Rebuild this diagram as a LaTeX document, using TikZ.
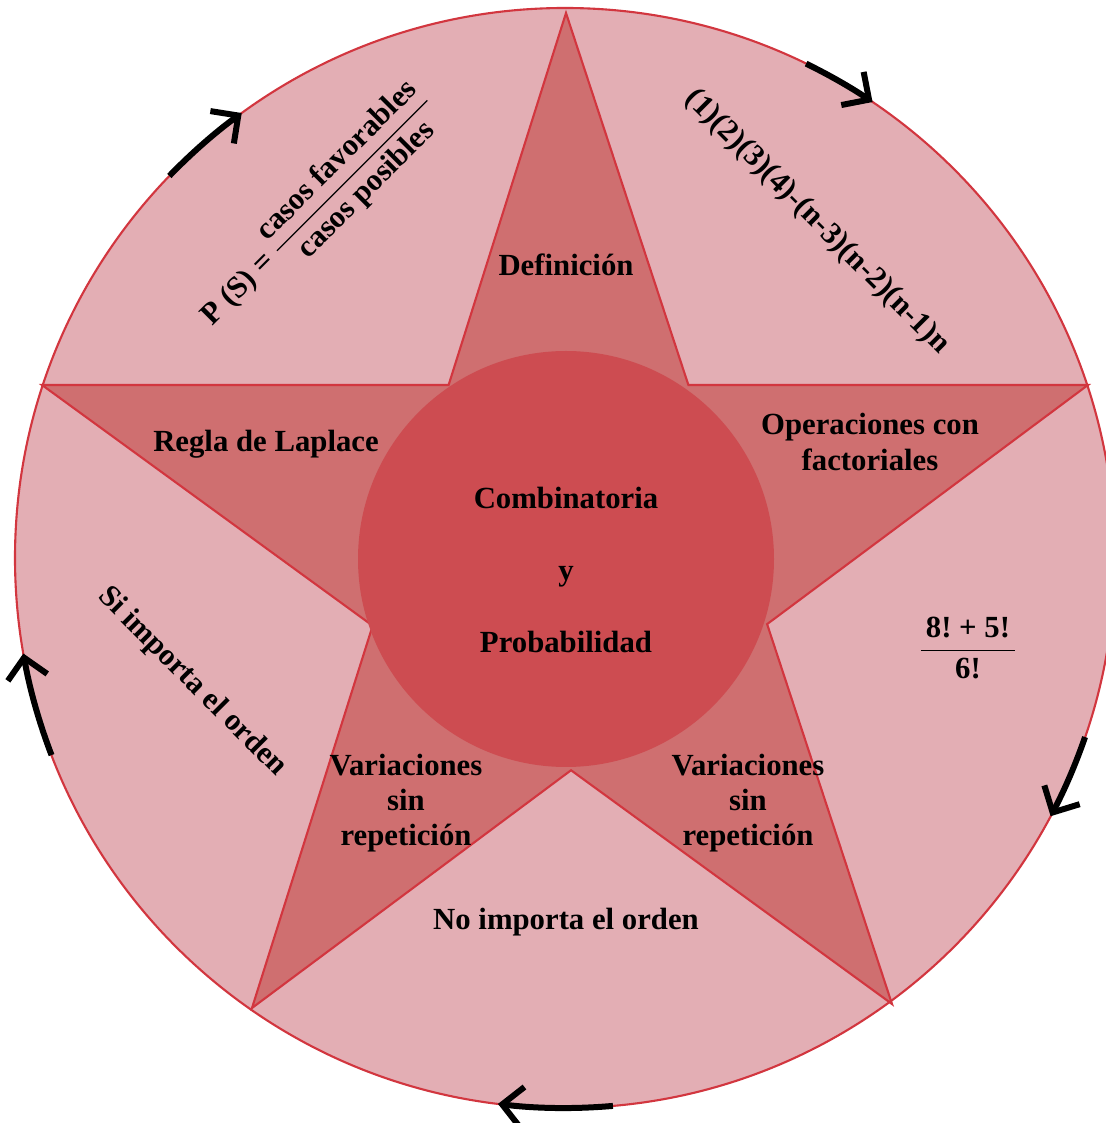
\documentclass[tikz,border=0pt]{standalone}
\usepackage{fontspec}
\setmainfont{Liberation Serif}
\usepackage{amsmath}
\usepackage{xcolor}
\usepackage{tikz}
\usetikzlibrary{arrows.meta,calc}

\definecolor{anillo}{HTML}{E3AEB4}
\definecolor{estrella}{HTML}{CF6F70}
\definecolor{nucleo}{HTML}{CD4C51}
\definecolor{borde}{HTML}{D2363F}

\begin{document}
\begin{tikzpicture}[
   x=0.02cm, y=0.02cm,
   txt/.style={font=\fontsize{17.5}{20}\selectfont\bfseries,align=center,inner sep=1pt},
   flecha/.style={line width=1.2mm,-{Straight Barb[length=4mm,width=8mm]}}]
  \useasboundingbox (0,0) rectangle (1106,1123);
  \coordinate (c) at (565,565);
  % puntas de la estrella
  \coordinate (t) at (566,1110);
  \coordinate (l) at (42,738);
  \coordinate (r) at (1088,738);
  \coordinate (bl) at (252,115);
  \coordinate (br) at (892,119);
  \filldraw[fill=anillo,draw=borde,line width=1.2pt] (c) circle[radius=550];
  \filldraw[fill=estrella,draw=borde,line width=1.2pt,line join=miter]
    (t) -- (intersection of t--bl and l--r) -- (l)
        -- (intersection of l--br and t--bl) -- (bl)
        -- (intersection of bl--r and l--br) -- (br)
        -- (intersection of br--t and bl--r) -- (r)
        -- (intersection of r--l and br--t) -- cycle;
  \fill[nucleo] (566,564) circle[radius=208];
  % flechas sobre el circulo
  \draw[flecha] ([shift={(64:550)}]c) arc[start angle=64,end angle=56,radius=550];
  \draw[flecha] ([shift={(-19:550)}]c) arc[start angle=-19,end angle=-28,radius=550];
  \draw[flecha] ([shift={(-85:550)}]c) arc[start angle=-85,end angle=-97,radius=550];
  \draw[flecha] ([shift={(201:550)}]c) arc[start angle=201,end angle=190,radius=550];
  \draw[flecha] ([shift={(136:550)}]c) arc[start angle=136,end angle=126,radius=550];
  % textos
  \node[txt] (def) at (566,858) {Definición};
  \node[txt] (lap) at (266,679) {Regla de Laplace};
  \node[txt] (fac) at (870,681) {Operaciones con\\factoriales};
  \node[txt] (cyp) at (566,553) {Combinatoria\\[21pt]y\\[21pt]Probabilidad};
  \node[txt] (vizq) at (406,320) {Variaciones\\sin\\repetición};
  \node[txt] (vder) at (748,320) {Variaciones\\sin\\repetición};
  \node[txt] (no) at (566,201) {No importa el orden};
  \node[txt,rotate=-45] (si) at (192,441) {Si importa el orden};
  \node[txt,rotate=45] (ps) at (318,913) {P (S) = $\dfrac{\text{casos favorables}}{\text{casos posibles}}$};
  \node[txt,rotate=-45] (prod) at (817,901) {(1)(2)(3)(4)-(n-3)(n-2)(n-1)n};
  \node[txt] (cuenta) at (968,475) {$\dfrac{\text{\,8!\ +\ 5!\,}}{\text{6!}}$};
\end{tikzpicture}
\end{document}
